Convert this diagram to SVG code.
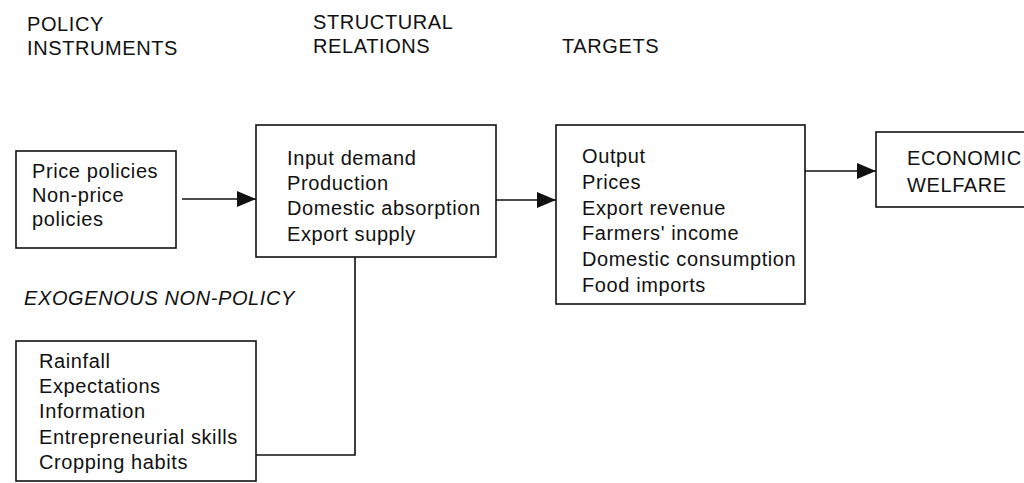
<svg xmlns="http://www.w3.org/2000/svg" width="1024" height="483" viewBox="0 0 1024 483">
<style>
text{font-family:"Liberation Sans",Arial,sans-serif;font-size:20px;letter-spacing:0.6px;fill:#111}
.it{font-style:italic}
.box{fill:#fff;stroke:#111;stroke-width:1.6}
.conn{fill:none;stroke:#111;stroke-width:1.6}
</style>
<defs>
<marker id="ah" markerWidth="19" markerHeight="16" refX="19" refY="8" orient="auto" markerUnits="userSpaceOnUse">
<path d="M0,0 L19,8 L0,16 Z" fill="#111"/>
</marker>
</defs>
<rect width="1024" height="483" fill="#fff"/>
<g id="headers">
<text x="27" y="31">POLICY</text>
<text x="27" y="55">INSTRUMENTS</text>
<text x="313" y="29">STRUCTURAL</text>
<text x="313" y="53">RELATIONS</text>
<text x="562" y="53">TARGETS</text>
<text class="it" x="24" y="305">EXOGENOUS NON-POLICY</text>
</g>
<g id="connectors">
<line class="conn" x1="182" y1="199" x2="256" y2="199" marker-end="url(#ah)"/>
<line class="conn" x1="496" y1="200" x2="556" y2="200" marker-end="url(#ah)"/>
<line class="conn" x1="805" y1="171" x2="876" y2="171" marker-end="url(#ah)"/>
<polyline class="conn" points="355,257 355,455 256,455"/>
</g>
<g id="policy">
<rect class="box" x="16" y="151" width="160" height="97"/>
<text x="32" y="178">Price policies</text>
<text x="32" y="202">Non-price</text>
<text x="32" y="226">policies</text>
</g>
<g id="structural">
<rect class="box" x="256" y="125" width="240" height="132"/>
<text x="287" y="165">Input demand</text>
<text x="287" y="190">Production</text>
<text x="287" y="215">Domestic absorption</text>
<text x="287" y="241">Export supply</text>
</g>
<g id="targets">
<rect class="box" x="556" y="125" width="249" height="179"/>
<text x="582" y="163">Output</text>
<text x="582" y="189">Prices</text>
<text x="582" y="215">Export revenue</text>
<text x="582" y="240">Farmers' income</text>
<text x="582" y="266">Domestic consumption</text>
<text x="582" y="292">Food imports</text>
</g>
<g id="welfare">
<rect class="box" x="876" y="132" width="160" height="75"/>
<text x="907" y="165">ECONOMIC</text>
<text x="907" y="192">WELFARE</text>
</g>
<g id="exogenous">
<rect class="box" x="16" y="341" width="240" height="140"/>
<text x="39" y="368">Rainfall</text>
<text x="39" y="393">Expectations</text>
<text x="39" y="418">Information</text>
<text x="39" y="444">Entrepreneurial skills</text>
<text x="39" y="469">Cropping habits</text>
</g>
</svg>
